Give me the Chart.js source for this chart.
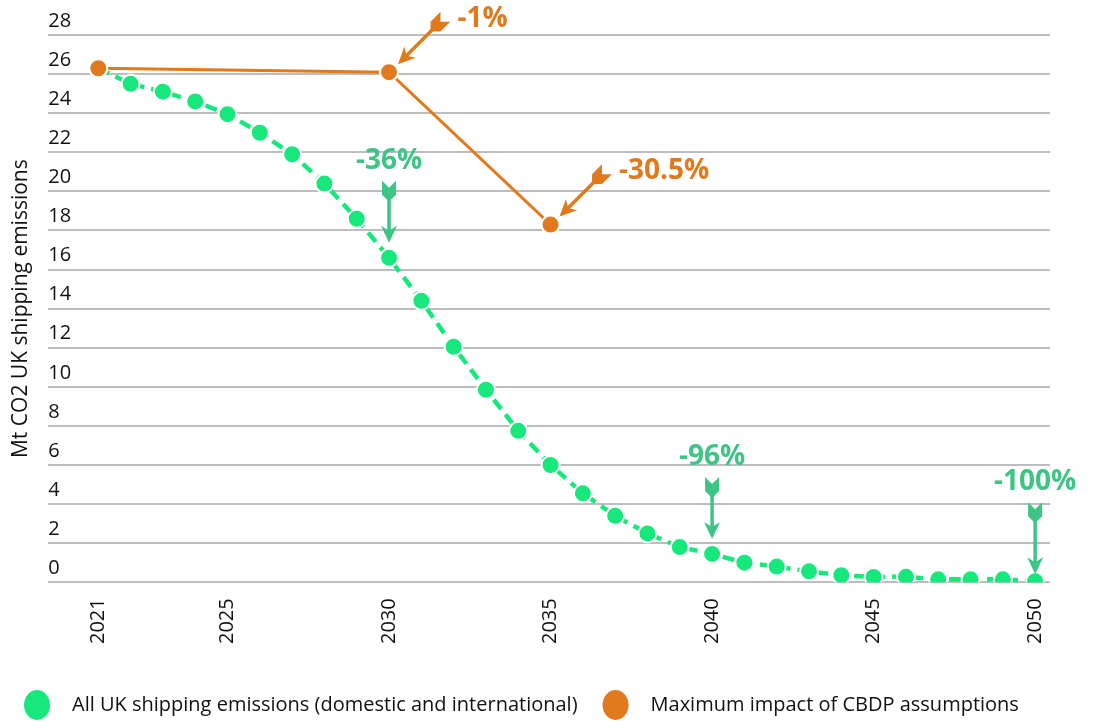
<!DOCTYPE html>
<html>
<head>
<meta charset="utf-8">
<script src="https://cdn.jsdelivr.net/npm/chart.js@4.4.0/dist/chart.umd.min.js"></script>
<style>
  html, body { margin: 0; padding: 0; background: #fff; }
  #wrap { width: 1093px; height: 722px; position: relative; }
</style>
</head>
<body>
<div id="wrap"><canvas id="myChart"></canvas></div>
<script>
// data
const years = [2021, 2022, 2023, 2024, 2025, 2026, 2027, 2028, 2029, 2030,
  2031, 2032, 2033, 2034, 2035, 2036, 2037, 2038, 2039, 2040,
  2041, 2042, 2043, 2044, 2045, 2046, 2047, 2048, 2049, 2050];
const allShipping = [26.3, 25.5, 25.1, 24.6, 23.95, 23.0, 21.9, 20.4, 18.6, 16.6,
  14.4, 12.05, 9.85, 7.75, 6.0, 4.55, 3.4, 2.5, 1.8, 1.45,
  1.0, 0.8, 0.56, 0.36, 0.27, 0.28, 0.15, 0.15, 0.15, 0.05];
const cbdpYears = [2021, 2030, 2035];
const cbdpImpact = [26.3, 26.1, 18.3];
const xTickYears = [2021, 2025, 2030, 2035, 2040, 2045, 2050];
const greenNoteYears = [2030, 2040, 2050];
const greenNoteLabels = ["-36%", "-96%", "-100%"];
const orangeNoteYears = [2030, 2035];
const orangeNoteLabels = ["-1%", "-30.5%"];

const GREEN = "#16e87c";
const GREEN_TEXT = "#3cc585";
const ORANGE = "#e07a1c";
const FONT = "'Open Sans', 'Noto Sans', sans-serif";

// arrow with feathers, drawn in local coords pointing along +x
function drawArrow(ctx, tipX, tipY, angle, len, color) {
  ctx.save();
  ctx.translate(tipX, tipY);
  ctx.rotate(angle);
  ctx.fillStyle = color;
  ctx.strokeStyle = color;
  ctx.lineWidth = 3.5;
  ctx.beginPath();
  ctx.moveTo(-10, 0);
  ctx.lineTo(-len + 10, 0);
  ctx.stroke();
  // head
  ctx.beginPath();
  ctx.moveTo(0, 0);
  ctx.lineTo(-17, -8);
  ctx.lineTo(-12, 0);
  ctx.lineTo(-17, 8);
  ctx.closePath();
  ctx.fill();
  // feathers
  ctx.beginPath();
  ctx.moveTo(-len, -7);
  ctx.lineTo(-len + 7, 0);
  ctx.lineTo(-len, 7);
  ctx.lineTo(-len + 14, 7);
  ctx.lineTo(-len + 21, 0);
  ctx.lineTo(-len + 14, -7);
  ctx.closePath();
  ctx.fill();
  ctx.restore();
}

const notesPlugin = {
  id: "notes",
  afterDatasetsDraw(chart) {
    const ctx = chart.ctx;
    const xs = chart.scales.x;
    const ys = chart.scales.y;
    ctx.save();
    ctx.font = "bold 28px " + FONT;
    ctx.textBaseline = "middle";
    greenNoteYears.forEach(function (yr, i) {
      const px = xs.getPixelForValue(yr);
      const py = ys.getPixelForValue(allShipping[years.indexOf(yr)]);
      const tipY = yr === 2050 ? py - 7 : py - 15;
      const len = yr === 2050 ? 72 : 62;
      drawArrow(ctx, px, tipY, Math.PI / 2, len, GREEN_TEXT);
      ctx.fillStyle = GREEN_TEXT;
      ctx.textAlign = "center";
      ctx.fillText(greenNoteLabels[i], px, tipY - len - 20);
    });
    orangeNoteYears.forEach(function (yr, i) {
      const px = xs.getPixelForValue(yr);
      const py = ys.getPixelForValue(cbdpImpact[cbdpYears.indexOf(yr)]);
      const tipX = px + 9, tipY = py - 8;
      const ang = Math.atan2(47, -47);
      const len = 67;
      drawArrow(ctx, tipX, tipY, ang, len, ORANGE);
      const tailX = tipX - Math.cos(ang) * len;
      const tailY = tipY - Math.sin(ang) * len;
      ctx.fillStyle = ORANGE;
      ctx.textAlign = "left";
      ctx.fillText(orangeNoteLabels[i], tailX + 12, tailY + 2);
    });
    ctx.restore();
  }
};

// legend drawn along the bottom edge
const legendPlugin = {
  id: "bottomLegend",
  afterDraw(chart) {
    const ctx = chart.ctx;
    ctx.save();
    ctx.font = "20px " + FONT;
    ctx.textBaseline = "middle";
    ctx.textAlign = "left";
    let x = 37;
    const y = 705;
    chart.data.datasets.forEach(function (ds) {
      ctx.fillStyle = ds.backgroundColor;
      ctx.beginPath();
      ctx.ellipse(x, y, 13, 15, 0, 0, Math.PI * 2);
      ctx.fill();
      ctx.fillStyle = "#111";
      ctx.fillText(ds.label, x + 35, y);
      x += 35 + ctx.measureText(ds.label).width + 38;
    });
    ctx.restore();
  }
};

const ctx = document.getElementById("myChart");

new Chart(ctx, {
  type: "line",
  data: {
    datasets: [
      {
        label: "All UK shipping emissions (domestic and international)",
        data: years.map((y, i) => ({ x: y, y: allShipping[i] })),
        borderColor: GREEN,
        backgroundColor: GREEN,
        borderWidth: 4.5,
        borderDash: [12, 7],
        pointRadius: 9,
        pointBorderWidth: 2,
        pointBorderColor: "#fff",
        pointBackgroundColor: GREEN,
        tension: 0,
        order: 2
      },
      {
        label: "Maximum impact of CBDP assumptions",
        data: cbdpYears.map((y, i) => ({ x: y, y: cbdpImpact[i] })),
        borderColor: ORANGE,
        backgroundColor: ORANGE,
        borderWidth: 3,
        pointRadius: 9,
        pointBorderWidth: 2,
        pointBorderColor: "#fff",
        pointBackgroundColor: ORANGE,
        tension: 0,
        order: 1
      }
    ]
  },
  options: {
    responsive: true,
    maintainAspectRatio: false,
    animation: false,
    layout: { padding: { left: 5, right: 43, top: 35, bottom: 70 } },
    plugins: {
      tooltip: { enabled: false },
      legend: { display: false }
    },
    scales: {
      x: {
        type: "linear",
        min: 2019.45,
        max: 2050.46,
        afterBuildTicks: (axis) => { axis.ticks = xTickYears.map(v => ({ value: v })); },
        grid: { display: false },
        border: { display: false },
        ticks: {
          minRotation: 90,
          maxRotation: 90,
          padding: 8,
          color: "#111",
          font: { family: FONT, size: 20 },
          callback: (v) => String(v)
        }
      },
      y: {
        min: 0,
        max: 28,
        ticks: {
          stepSize: 2,
          mirror: true,
          padding: 0,
          labelOffset: -14,
          color: "#111",
          font: { family: FONT, size: 20 }
        },
        grid: { color: "#bdbdbd", lineWidth: 2, drawTicks: false },
        border: { display: false },
        title: {
          display: true,
          text: "Mt CO2 UK shipping emissions",
          color: "#111",
          font: { family: FONT, size: 21 },
          padding: { top: 3, bottom: 15 }
        }
      }
    }
  },
  plugins: [notesPlugin, legendPlugin]
});
</script>
</body>
</html>
